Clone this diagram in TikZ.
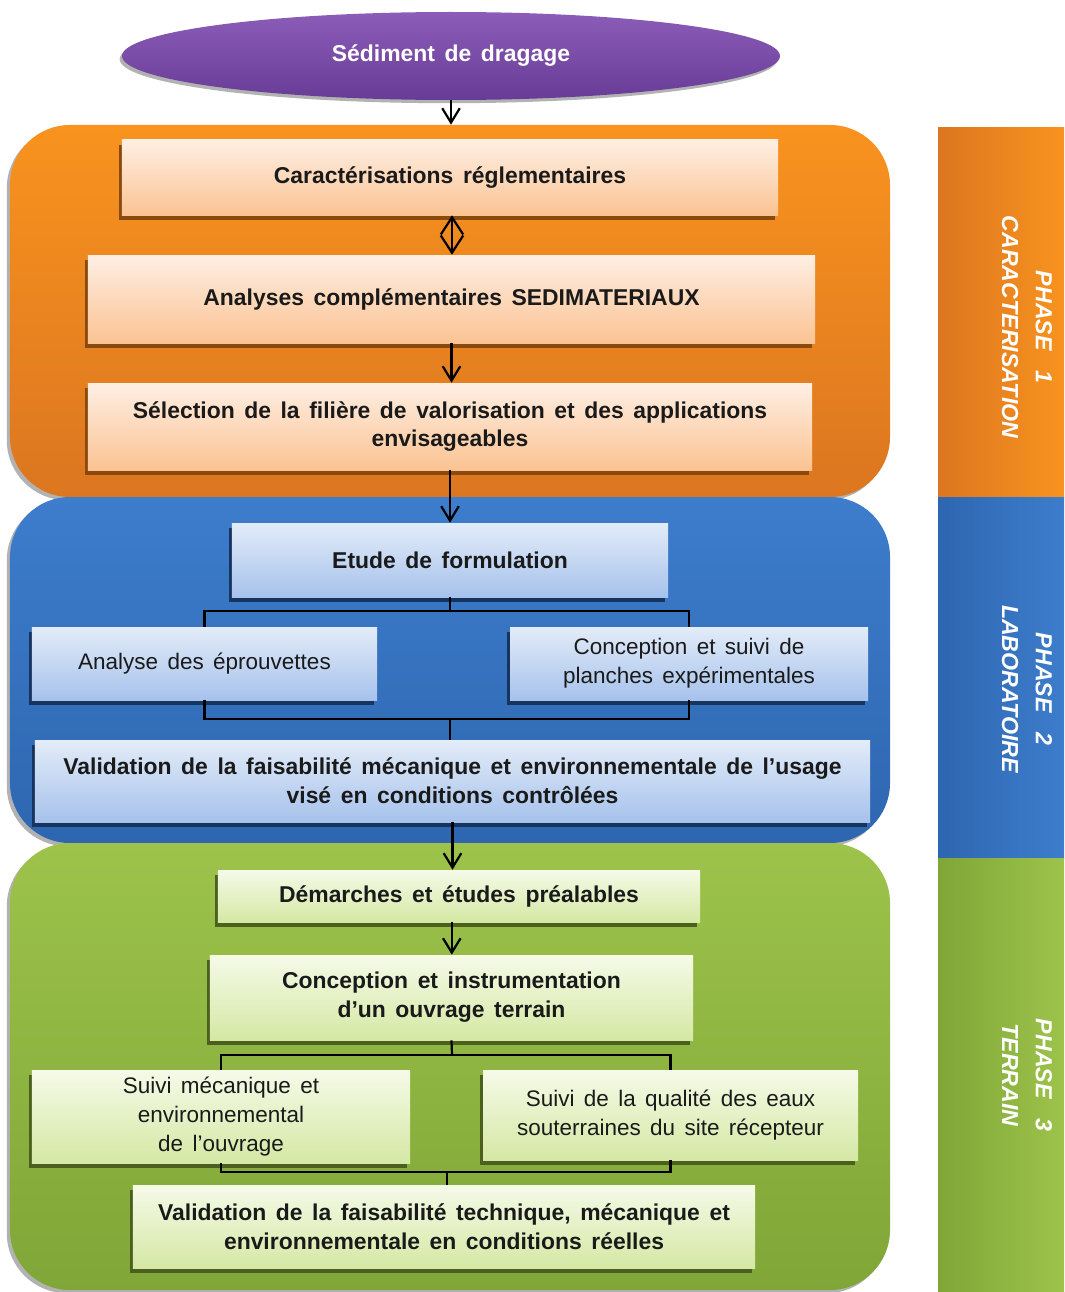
\documentclass[tikz,border=0pt]{standalone}
\usepackage{fontspec}
\setmainfont{Liberation Sans}[WordSpace=1.5]
\usepackage{tikz}
\usetikzlibrary{arrows.meta,positioning,shapes.geometric,shadows}
\definecolor{otop}{HTML}{F8931F}
\definecolor{obot}{HTML}{DC7620}
\definecolor{btop}{HTML}{3D7DCC}
\definecolor{bbot}{HTML}{2E66B0}
\definecolor{gtop}{HTML}{9DC34B}
\definecolor{gbot}{HTML}{7FA637}
\definecolor{oboxt}{HTML}{FEEFE3}
\definecolor{oboxb}{HTML}{FBC393}
\definecolor{bboxt}{HTML}{E3ECF8}
\definecolor{bboxb}{HTML}{A6C2EC}
\definecolor{gboxt}{HTML}{F5FAE8}
\definecolor{gboxb}{HTML}{D5E8A4}
\definecolor{oshad}{HTML}{8A4A0E}
\definecolor{bshad}{HTML}{17345E}
\definecolor{gshad}{HTML}{4B5F1F}
\definecolor{ptop}{HTML}{8C5DB8}
\definecolor{pbot}{HTML}{673C96}
\definecolor{txt}{HTML}{1A1A1A}
\tikzset{
  panel/.style={rounded corners=15mm,inner sep=0pt,drop shadow={shadow xshift=-0.8mm,shadow yshift=-0.8mm,fill=black,opacity=0.3}},
  bx/.style={inner sep=0pt,align=center,text=txt,font=\bfseries\fontsize{16.3}{20.5}\selectfont},
  obx/.style={bx,top color=oboxt,bottom color=oboxb,drop shadow={shadow xshift=-0.8mm,shadow yshift=-1.2mm,fill=oshad,opacity=1}},
  bbx/.style={bx,top color=bboxt,bottom color=bboxb,drop shadow={shadow xshift=-0.8mm,shadow yshift=-1.2mm,fill=bshad,opacity=1}},
  gbx/.style={bx,top color=gboxt,bottom color=gboxb,drop shadow={shadow xshift=-0.8mm,shadow yshift=-1.2mm,fill=gshad,opacity=1}},
  thin/.style={font=\fontsize{16}{20.5}\selectfont},
  arr/.style={-{Straight Barb[length=3.6mm,width=4.4mm,line width=0.55mm]},line width=0.55mm,draw=black},
  darr/.style={{Straight Barb[length=4.3mm,width=5.6mm,line width=0.55mm]}-{Straight Barb[length=4.3mm,width=5.6mm,line width=0.55mm]},line width=0.55mm,draw=black},
  conn/.style={line width=0.55mm,draw=black},
  phlbl/.style={rotate=-90,align=center,text=white,font=\bfseries\itshape\fontsize{16.5}{24}\selectfont},
}

\begin{document}
\begin{tikzpicture}[x=0.25mm,y=-0.25mm]
  \useasboundingbox (0,0) rectangle (1064,1292);

  \shade[left color=obot,right color=otop] (938,127) rectangle (1064,497);
  \shade[left color=bbot,right color=btop] (938,497) rectangle (1064,858);
  \shade[left color=gbot,right color=gtop] (938,858) rectangle (1064,1292);
  \node[phlbl] (lph1) at (1027,327) {PHASE~~1\\CARACTERISATION};
  \node[phlbl] (lph2) at (1027,689) {PHASE~~2\\LABORATOIRE};
  \node[phlbl] (lph3) at (1027,1075) {PHASE~~3\\TERRAIN};

  \node[panel,top color=otop,bottom color=obot,minimum width=220mm,minimum height=93mm] (pan1) at (450,311) {};
  \node[panel,top color=btop,bottom color=bbot,minimum width=220mm,minimum height=86.5mm] (pan2) at (450,670) {};
  \node[panel,top color=gtop,bottom color=gbot,minimum width=220mm,minimum height=111.75mm] (pan3) at (450,1066.5) {};

  \node[ellipse,inner sep=0pt,top color=ptop,bottom color=pbot,minimum width=164.5mm,minimum height=22mm,
        text=white,font=\bfseries\fontsize{16.3}{20}\selectfont,
        drop shadow={shadow xshift=-0.6mm,shadow yshift=-0.8mm,fill=black,opacity=0.3}] (sed) at (451,56) {Sédiment de dragage};

  \node[obx,minimum width=164mm,minimum height=18.75mm] (carac) at (450,177.5) {Caractérisations réglementaires};
  \node[obx,minimum width=181.75mm,minimum height=22mm] (analy) at (451.5,299) {Analyses complémentaires SEDIMATERIAUX};
  \node[obx,minimum width=181mm,minimum height=21.75mm] (selec) at (450,426.5) {Sélection de la filière de valorisation et des applications\\envisageables};

  \node[bbx,minimum width=109mm,minimum height=18.5mm] (formu) at (450,560) {Etude de formulation};
  \node[bbx,thin,minimum width=86.25mm,minimum height=18.25mm] (eprou) at (204.5,663.5) {Analyse des éprouvettes};
  \node[bbx,thin,minimum width=89.5mm,minimum height=18.25mm] (planch) at (689,663.5) {Conception et suivi de\\planches expérimentales};
  \node[bbx,minimum width=208.75mm,minimum height=20.5mm] (valab) at (452.5,781) {Validation de la faisabilité mécanique et environnementale de l’usage\\visé en conditions contrôlées};

  \node[gbx,minimum width=120.5mm,minimum height=13mm] (demar) at (459,896) {Démarches et études préalables};
  \node[gbx,minimum width=120.75mm,minimum height=21.25mm] (ouvr) at (451.5,997.5) {Conception et instrumentation\\d’un ouvrage terrain};
  \node[gbx,thin,minimum width=94.5mm,minimum height=23.25mm] (suivm) at (221,1116.5) {Suivi mécanique et\\environnemental\\de l’ouvrage};
  \node[gbx,thin,minimum width=93.75mm,minimum height=22.5mm] (suive) at (670.5,1115) {Suivi de la qualité des eaux\\souterraines du site récepteur};
  \node[gbx,minimum width=155.5mm,minimum height=20.75mm] (valter) at (444,1226.5) {Validation de la faisabilité technique, mécanique et\\environnementale en conditions réelles};

  \draw[arr] (sed.south) -- (sed.south |- pan1.north);
  \draw[darr] ([xshift=0.5mm]carac.south) -- ([xshift=0.5mm]carac.south |- analy.north);
  \draw[arr] (analy.south) -- (analy.south |- selec.north);
  \draw[arr] (selec.south) -- (selec.south |- formu.north);

  \coordinate (jf) at (450,611);
  \coordinate (jv) at (450,719);
  \draw[conn] (formu.south) -- (jf);
  \draw[conn] (eprou.north) |- (jf) -| (planch.north);
  \draw[conn] (eprou.south) |- (jv) -| (planch.south);
  \draw[conn] (jv) -- (jv |- valab.north);

  \draw[arr] (valab.south) -- (valab.south |- demar.north);
  \draw[arr] ([xshift=-1.8mm]demar.south) -- ([xshift=-1.8mm]demar.south |- ouvr.north);

  \coordinate (jo) at (452,1055);
  \coordinate (js) at (447,1172);
  \draw[conn] (ouvr.south) -- (jo);
  \draw[conn] (suivm.north) |- (jo) -| (suive.north);
  \draw[conn] (suivm.south) |- (js) -| (suive.south);
  \draw[conn] (js) -- (js |- valter.north);
\end{tikzpicture}
\end{document}
